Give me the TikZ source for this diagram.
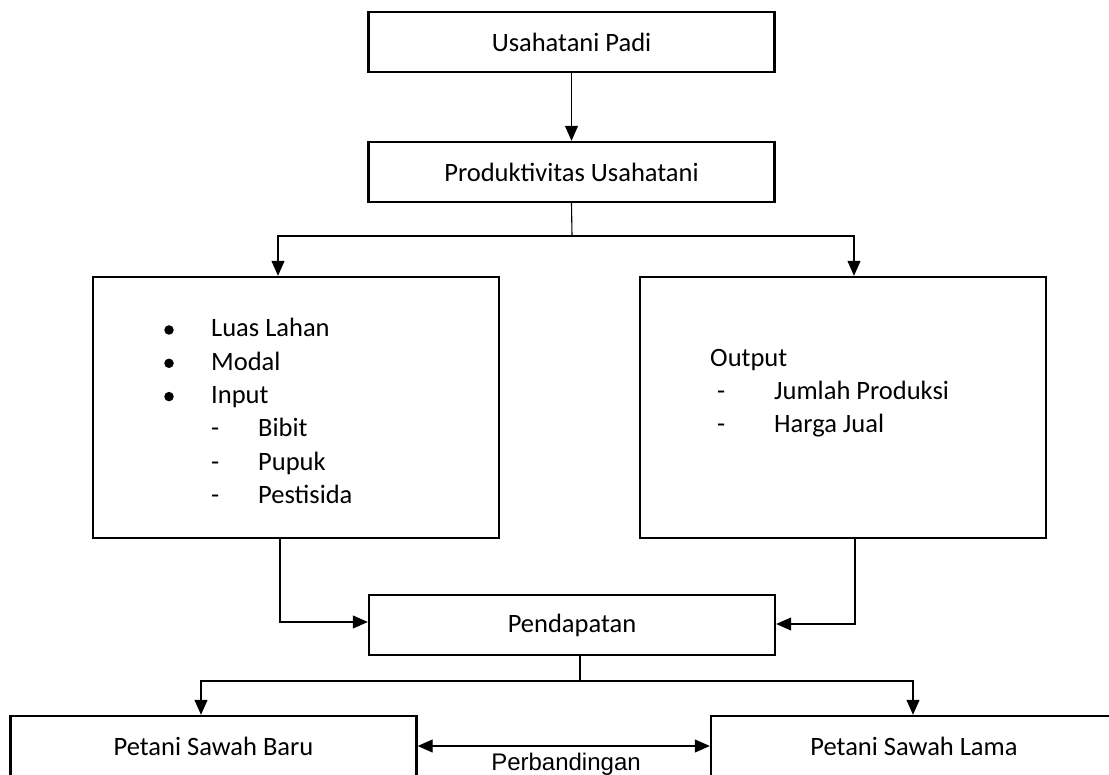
\documentclass[tikz,border=0pt]{standalone}
\usepackage{fontspec}
\setmainfont{Carlito}
\newfontfamily\arialf{Liberation Sans}
\usetikzlibrary{arrows.meta}
\begin{document}
\begin{tikzpicture}[x=1pt,y=-1pt,
  box/.style={draw, line width=2.4pt, minimum width=406pt, minimum height=60pt, inner sep=0pt, font=\fontsize{26.5}{32}\selectfont},
  link/.style={line width=1.1pt},
  arr/.style={link, -{Triangle[width=13pt,length=15pt]}},
  arrtwo/.style={link, {Triangle[width=13pt,length=15pt]}-{Triangle[width=13pt,length=15pt]}},
  txt/.style={anchor=base west, inner sep=0pt, font=\fontsize{26.5}{32}\selectfont},
  dot/.style={circle, fill, inner sep=0pt, minimum size=9.5pt}
]
\clip (0,0) rectangle (1109,775);
\fill[white] (0,0) rectangle (1109,775);

% boxes
\node[box] (usaha) at (571.5,42) {Usahatani Padi};
\node[box] (prod) at (571.5,172) {Produktivitas Usahatani};
\node[box, minimum height=261pt] (lbox) at (296,407.5) {};
\node[box, minimum height=261pt] (rbox) at (843,407.5) {};
\node[box] (pend) at (572,625) {Pendapatan};
\node[box] (pbaru) at (213.5,746) {Petani Sawah Baru};
\node[box] (plama) at (914,746) {Petani Sawah Lama};

% left box content
\node[dot] (b1) at (169,330) {};
\node[dot] (b2) at (169,363.3) {};
\node[dot] (b3) at (169,396.6) {};
\node[txt] (t1) at (211,337) {Luas Lahan};
\node[txt] (t2) at (211,370.3) {Modal};
\node[txt] (t3) at (211,403.6) {Input};
\node[txt] (d1) at (211,437) {-};
\node[txt] (d2) at (211,470.3) {-};
\node[txt] (d3) at (211,503.6) {-};
\node[txt] (t4) at (258,437) {Bibit};
\node[txt] (t5) at (258,470.3) {Pupuk};
\node[txt] (t6) at (258,503.6) {Pestisida};

% right box content
\node[txt] (o0) at (710,367) {Output};
\node[txt] (od1) at (717,400) {-};
\node[txt] (od2) at (717,433) {-};
\node[txt] (o1) at (774,400) {Jumlah Produksi};
\node[txt] (o2) at (774,433) {Harga Jual};

% connectors
\draw[arr] (usaha) -- (prod);
\coordinate (pj) at (572,236);
\draw[link] (prod.south) -- (pj);
\draw[arr] (pj) -| ([xshift=-18pt]lbox.north);
\draw[arr] (pj) -| ([xshift=11pt]rbox.north);
\draw[arr] ([xshift=-16pt]lbox.south) |- ([yshift=3pt]pend.west);
\draw[arr] ([xshift=12pt]rbox.south) |- ([yshift=1pt]pend.east);
\coordinate (sj) at (580,681);
\draw[link] ([xshift=8pt]pend.south) -- (sj);
\draw[arr] (sj) -| ([xshift=-12.5pt]pbaru.north);
\draw[arr] (sj) -| ([xshift=-1pt]plama.north);
\draw[arrtwo] (pbaru.east) -- (plama.west);
\node[anchor=base, inner sep=0pt, font=\arialf\fontsize{24}{28}\selectfont] (perb) at (566,770) {Perbandingan};
\end{tikzpicture}
\end{document}
